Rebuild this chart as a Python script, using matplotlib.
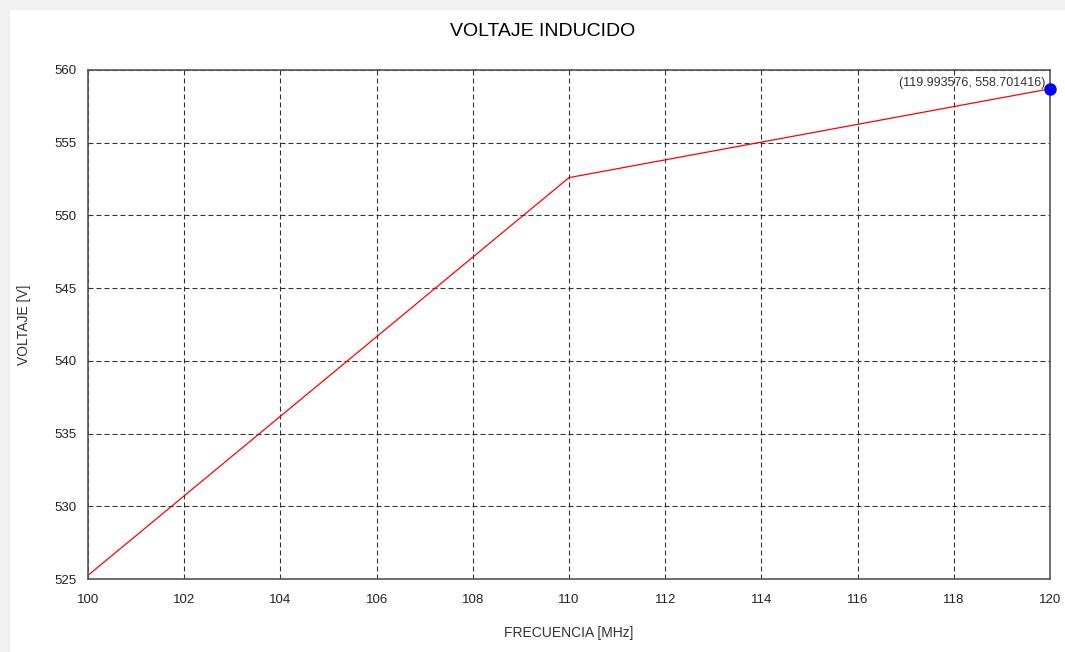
import matplotlib.pyplot as plt
from matplotlib.patches import Rectangle

plt.rcParams['font.family'] = ['Liberation Sans', 'DejaVu Sans']

#~~~Data~~~
frec = [100.0, 110.0, 119.993576]
volt = [525.25, 552.6, 558.701416]
x_ticks = list(range(100, 121, 2))
y_ticks = list(range(525, 561, 5))

fig = plt.figure(figsize=(10.65, 6.52), dpi=100)
# light grey window frame at top and left
fig.patches.append(Rectangle((0, 1 - 9/652), 1, 9/652, transform=fig.transFigure,
                             color='#f0f0f0', zorder=0))
fig.patches.append(Rectangle((0, 0), 9/1065, 1, transform=fig.transFigure,
                             color='#f0f0f0', zorder=0))

ax = fig.add_axes([88/1065, 1 - 579/652, (1050 - 88)/1065, (579 - 70)/652])
ax.plot(frec, volt, '-', color='red', lw=0.9)
ax.plot(frec[-1], volt[-1], 'o', color='blue', ms=8, clip_on=False, zorder=5)
ax.annotate('(%.6f, %.6f)' % (frec[-1], volt[-1]), (frec[-1], volt[-1]),
            xytext=(-3, 4), textcoords='offset points', ha='right', va='center',
            fontsize=9, color='#333333')

ax.set_xlim(100, 120)
ax.set_ylim(525, 560)
ax.set_xticks(x_ticks)
ax.set_yticks(y_ticks)
ax.tick_params(length=0, labelsize=9.5, colors='#222222')
ax.tick_params(axis='x', pad=11)
ax.tick_params(axis='y', pad=8)
ax.grid(True, linestyle=(0, (4.5, 2.7)), color='#333333', lw=0.8)
for s in ax.spines.values():
    s.set_color('#555555')
    s.set_linewidth(1.2)

fig.text(543/1065, 1 - 31/652, 'VOLTAJE INDUCIDO', fontsize=14,
         ha='center', va='center')
ax.set_xlabel('FRECUENCIA [MHz]', fontsize=10, color='#333333', labelpad=14)
ax.set_ylabel('VOLTAJE [V]', fontsize=10, color='#333333', labelpad=17)

fig.savefig('out.png', dpi=100)
